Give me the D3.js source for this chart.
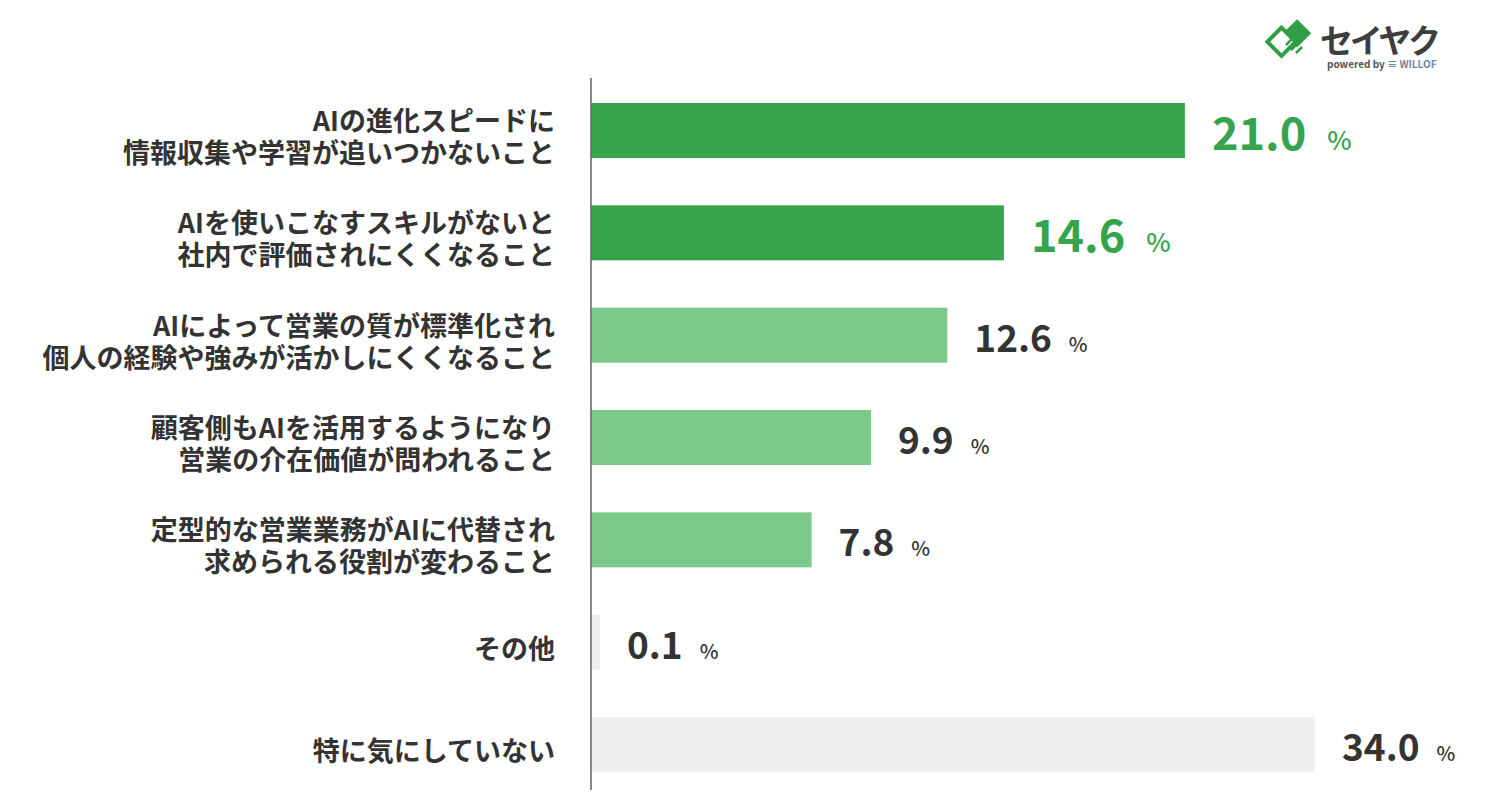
<html>
<head>
<meta charset="utf-8">
<script src="https://d3js.org/d3.v7.min.js"></script>
<style>
  body { margin: 0; background: #ffffff; }
  svg { display: block; font-family: "Noto Sans CJK JP", "Noto Sans", sans-serif; }
</style>
</head>
<body>
<svg id="chart" width="1509" height="811"></svg>
<script>
// survey answers, top to bottom
const categories = [
  "AIの進化スピードに\n情報収集や学習が追いつかないこと",
  "AIを使いこなすスキルがないと\n社内で評価されにくくなること",
  "AIによって営業の質が標準化され\n個人の経験や強みが活かしにくくなること",
  "顧客側もAIを活用するようになり\n営業の介在価値が問われること",
  "定型的な営業業務がAIに代替され\n求められる役割が変わること",
  "その他",
  "特に気にしていない"
];
const values = [21.0, 14.6, 12.6, 9.9, 7.8, 0.1, 34.0];
// which group each answer belongs to (top concerns / other concerns / rest)
const groups = ["top", "top", "concern", "concern", "concern", "rest", "rest"];

const groupColor = d3.scaleOrdinal()
  .domain(["top", "concern", "rest"])
  .range(["#35a44c", "#7cca8a", "#efefef"]);
const labelColor = g => g === "top" ? "#35a44c" : "#333333";

const svg = d3.select("#chart");
const x0 = 591;
const minBarW = 9;

// reference chart caps the long grey bar, so the scale is clamped at the plot edge
const x = d3.scaleLinear().domain([0, 25.6]).range([x0, 1315]).clamp(true);
const y = d3.scaleBand().domain(categories).range([103, 772]).paddingInner(0.4625);

const rows = categories.map((c, i) => ({ cat: c, value: values[i], group: groups[i] }));

// bars
svg.append("g").selectAll("rect")
  .data(rows)
  .join("rect")
  .attr("x", x0)
  .attr("y", d => y(d.cat))
  .attr("width", d => Math.max(x(d.value) - x0, minBarW))
  .attr("height", y.bandwidth())
  .attr("fill", d => groupColor(d.group));

// axis line
svg.append("line")
  .attr("x1", x0).attr("x2", x0)
  .attr("y1", y.range()[0] - 25).attr("y2", y.range()[1] + 18)
  .attr("stroke", "#6b6b6b")
  .attr("stroke-width", 1.6);

// category labels
const catG = svg.append("g")
  .attr("text-anchor", "end")
  .attr("font-size", 27)
  .attr("font-weight", 700)
  .attr("fill", "#333333");

rows.forEach(d => {
  const lines = d.cat.split("\n");
  const cy = y(d.cat) + y.bandwidth() / 2 + 5;
  catG.append("text")
    .attr("x", 555)
    .selectAll("tspan")
    .data(lines)
    .join("tspan")
    .attr("x", 555)
    .attr("y", (l, i) => cy + (i - (lines.length - 1) / 2) * 32)
    .attr("dominant-baseline", "central")
    .text(l => l);
});

// value labels
const fmt = d3.format(".1f");
rows.forEach(d => {
  const big = d.group === "top";
  const numSize = big ? 45 : 37;
  const pctSize = big ? 26 : 20;
  const cy = y(d.cat) + y.bandwidth() / 2;
  const t = svg.append("text")
    .attr("x", x0 + Math.max(x(d.value) - x0, minBarW) + 27)
    .attr("y", cy + numSize * 0.733 / 2 + 3)
    .attr("font-weight", 700)
    .attr("fill", labelColor(d.group));
  t.append("tspan").attr("font-size", numSize).text(fmt(d.value));
  t.append("tspan").attr("font-size", pctSize).attr("font-weight", 500)
    .attr("dx", big ? 21 : 17).text("%");
});

// logo
const logo = svg.append("g").attr("transform", "translate(1290,39)");
logo.append("rect")
  .attr("x", -9).attr("y", -19).attr("width", 20).attr("height", 20)
  .attr("transform", "rotate(45)")
  .attr("fill", "#2f9e46");
logo.append("rect")
  .attr("x", -14).attr("y", -2).attr("width", 20).attr("height", 20)
  .attr("transform", "rotate(45)")
  .attr("fill", "#ffffff")
  .attr("stroke", "#2f9e46")
  .attr("stroke-width", 4);
logo.append("path")
  .attr("d", "M-4,6 L6,-4 M1,11 L9,3 M6,14 L12,8")
  .attr("stroke", "#2f9e46")
  .attr("stroke-width", 2.5)
  .attr("fill", "none");
svg.append("text")
  .attr("x", 1320).attr("y", 53)
  .attr("font-size", 33).attr("font-weight", 700)
  .attr("fill", "#3d3d3d")
  .attr("textLength", 121)
  .text("セイヤク");
const pw = svg.append("text")
  .attr("x", 1327).attr("y", 68)
  .attr("font-size", 10).attr("font-weight", 700)
  .attr("fill", "#555555");
pw.append("tspan").text("powered by ");
pw.append("tspan").attr("fill", "#6f84a6").text("≡ WILLOF");
</script>
</body>
</html>
